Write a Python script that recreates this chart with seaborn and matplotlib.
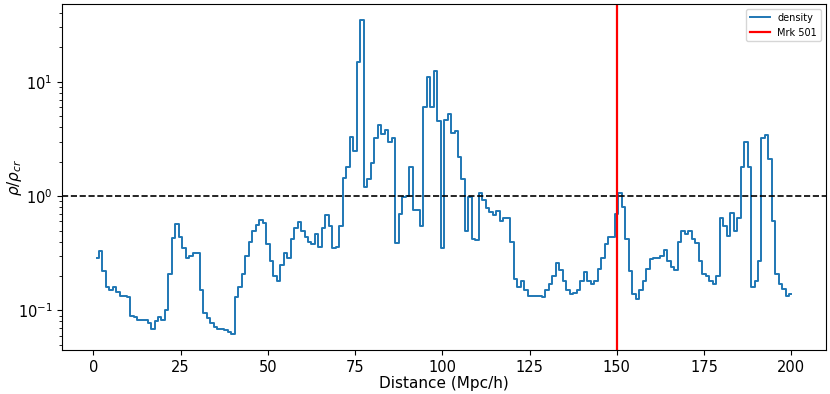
import matplotlib
matplotlib.use("Agg")
import matplotlib.pyplot as plt
import seaborn as sns
import numpy as np
import pandas as pd

# distance along the line of sight (Mpc/h), one bin per Mpc/h
distance = np.arange(1, 201)

# density contrast rho/rho_cr
density = [
    0.29, 0.33, 0.22, 0.16, 0.15, 0.16, 0.145, 0.135, 0.135, 0.13,
    0.09, 0.087, 0.082, 0.083, 0.082, 0.078, 0.069, 0.08, 0.087, 0.083,
    0.1, 0.21, 0.43, 0.57, 0.44, 0.35, 0.29, 0.3, 0.32, 0.32,
    0.15, 0.094, 0.085, 0.078, 0.071, 0.069, 0.069, 0.068, 0.065, 0.062,
    0.13, 0.16, 0.21, 0.3, 0.4, 0.5, 0.56, 0.62, 0.58, 0.38,
    0.27, 0.2, 0.18, 0.25, 0.316, 0.29, 0.42, 0.53, 0.59, 0.5,
    0.44, 0.4, 0.38, 0.47, 0.36, 0.53, 0.68, 0.55, 0.35, 0.36,
    0.55, 1.44, 1.8, 3.3, 2.5, 15.0, 35.0, 1.2, 1.4, 1.95,
    3.2, 4.2, 3.5, 3.8, 3.0, 3.2, 0.39, 0.7, 0.98, 1.0,
    1.8, 0.75, 0.75, 0.55, 6.0, 11.0, 6.0, 12.5, 4.5, 0.35,
    4.6, 5.2, 3.6, 3.7, 2.2, 1.4, 0.5, 0.98, 0.42, 0.41,
    1.06, 0.92, 0.78, 0.72, 0.69, 0.74, 0.6, 0.64, 0.65, 0.4,
    0.19, 0.16, 0.18, 0.15, 0.135, 0.133, 0.133, 0.133, 0.13, 0.15,
    0.17, 0.2, 0.26, 0.224, 0.18, 0.15, 0.14, 0.142, 0.15, 0.18,
    0.215, 0.18, 0.172, 0.18, 0.23, 0.29, 0.38, 0.44, 0.44, 0.7,
    1.06, 0.8, 0.42, 0.22, 0.138, 0.125, 0.15, 0.18, 0.23, 0.28,
    0.29, 0.29, 0.30, 0.34, 0.27, 0.24, 0.225, 0.4, 0.5, 0.47,
    0.5, 0.42, 0.39, 0.27, 0.21, 0.2, 0.18, 0.172, 0.2, 0.65,
    0.55, 0.45, 0.71, 0.5, 0.65, 1.8, 3.0, 1.8, 0.16, 0.18,
    0.27, 3.2, 3.4, 2.1, 0.6, 0.21, 0.17, 0.155, 0.135, 0.138,
]

source_name = "Mrk 501"
source_distance = 150
critical_level = 1.0

df = pd.DataFrame({"Distance": distance, "density": density})

fig = plt.figure(figsize=(8.3, 3.94), dpi=100)
ax = fig.add_axes([0.075, 0.112, 0.92, 0.878])

sns.lineplot(data=df, x="Distance", y="density", ax=ax, color="#1f77b4",
             linewidth=1.4, drawstyle="steps-mid", label="density")
ax.axvline(source_distance, color="red", linewidth=1.6, label=source_name)
ax.axhline(critical_level, color="black", linestyle="--", linewidth=1.2)

ax.set_yscale("log")
ax.set_xlabel("Distance (Mpc/h)", fontsize=11, labelpad=1)
ax.set_ylabel(r"$\rho/\rho_{cr}$", fontsize=11)
ax.yaxis.set_label_coords(-0.05, 0.5)
ax.tick_params(labelsize=10.5)
ax.legend(loc="upper right", fontsize=7)

fig.savefig("out.png", dpi=100)
